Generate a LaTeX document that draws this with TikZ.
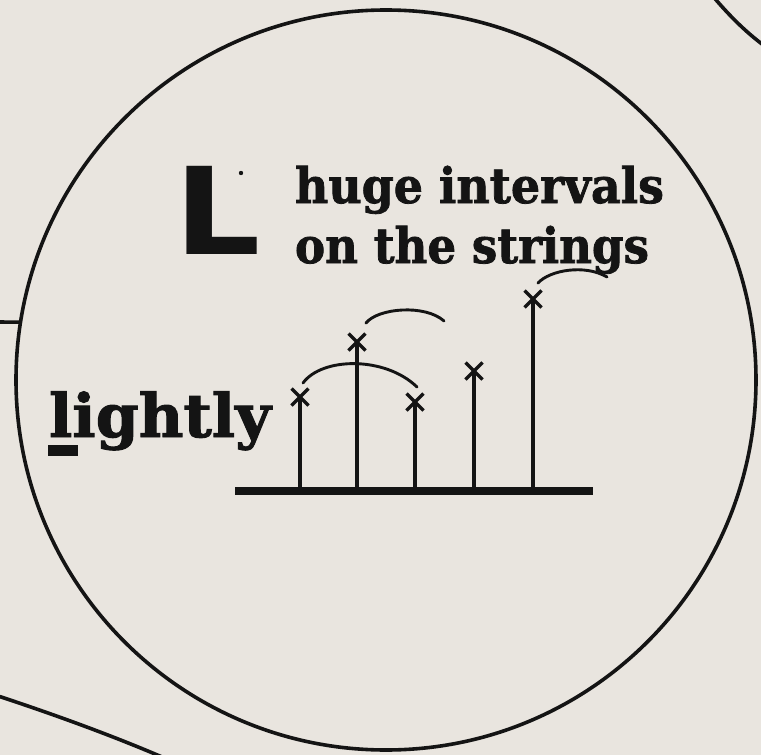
\documentclass[tikz,border=0pt]{standalone}
\usepackage{fontspec}
\usepackage{graphicx}
\usetikzlibrary{shapes.misc}
\newfontfamily\slabfont[FakeBold=1.6]{DejaVu Serif Bold}
\newfontfamily\heavysans{DejaVu Sans Bold}
\definecolor{paper}{HTML}{E9E5DF}
\definecolor{ink}{HTML}{141414}
\tikzset{
  txt/.style={anchor=base west, inner sep=0pt, outer sep=0pt, text=ink},
  xmark/.style={cross out, draw=ink, line width=3.2pt, minimum size=17pt, inner sep=0pt, outer sep=0pt},
  stem/.style={draw=ink, line width=3.2pt},
  slur/.style={draw=ink, line width=2.9pt, line cap=round},
  outline/.style={draw=ink, line width=3.6pt},
}
\begin{document}
\begin{tikzpicture}[x=1pt, y=-1pt]
\fill[paper] (0,0) rectangle (761,755);
\useasboundingbox (0,0) rectangle (761,755);
\clip (0,0) rectangle (761,755);

% big circle and outer curves
\node[circle, outline, minimum size=740pt, inner sep=0pt, outer sep=0pt] (big) at (386,380) {};
\coordinate (lstart) at (-5,322);
\draw[outline] (lstart) -- (big.171);
\draw[outline] (711,-6) .. controls (727,13) and (744,31) .. (766,47);
\draw[outline] (-5,695) .. controls (50,713) and (120,738) .. (178,764);

% L and dot
\node[txt] (bigL) at (174,254) {\heavysans\fontsize{121}{121}\selectfont\scalebox{1.12}[1]{L}};
\fill[ink] (241,173) circle[radius=2.2pt];

% headings
\node[txt] (t1) at (295,203) {\slabfont\fontsize{49}{49}\selectfont\resizebox{369pt}{\height}{huge intervals}};
\node[txt] (t2) at (295,263) {\slabfont\fontsize{49}{49}\selectfont\resizebox{354pt}{\height}{on the strings}};

% lightly
\node[txt] (lt) at (49,437) {\slabfont\fontsize{60}{60}\selectfont\resizebox{222pt}{\height}{lightly}};
\fill[ink] (48,445) rectangle (78,456);

% baseline bar
\coordinate (barL) at (235,491);
\coordinate (barR) at (593,491);
\draw[ink, line width=7.5pt] (barL) -- (barR);

% stems and crosses
\node[xmark] (x1) at (300,397) {};
\node[xmark] (x2) at (357,342) {};
\node[xmark] (x3) at (415,402) {};
\node[xmark] (x4) at (474,371) {};
\node[xmark] (x5) at (533,299) {};
\coordinate (b1) at (300,491);
\coordinate (b2) at (357,491);
\coordinate (b3) at (415,491);
\coordinate (b4) at (474,491);
\coordinate (b5) at (533,491);
\draw[stem] (b1) -- (x1.center);
\draw[stem] (b2) -- (x2.center);
\draw[stem] (b3) -- (x3.center);
\draw[stem] (b4) -- (x4.center);
\draw[stem] (b5) -- (x5.center);

% slurs
\coordinate (s1a) at (303,383);
\coordinate (s1b) at (417,387);
\coordinate (s2a) at (366,323);
\coordinate (s2b) at (444,321);
\coordinate (s3a) at (538,283);
\coordinate (s3b) at (607,277);
\draw[slur] (s1a) .. controls (322,357) and (385,356) .. (s1b);
\draw[slur] (s2a) .. controls (378,308) and (425,304) .. (s2b);
\draw[slur] (s3a) .. controls (550,270) and (585,264) .. (s3b);
\end{tikzpicture}
\end{document}
